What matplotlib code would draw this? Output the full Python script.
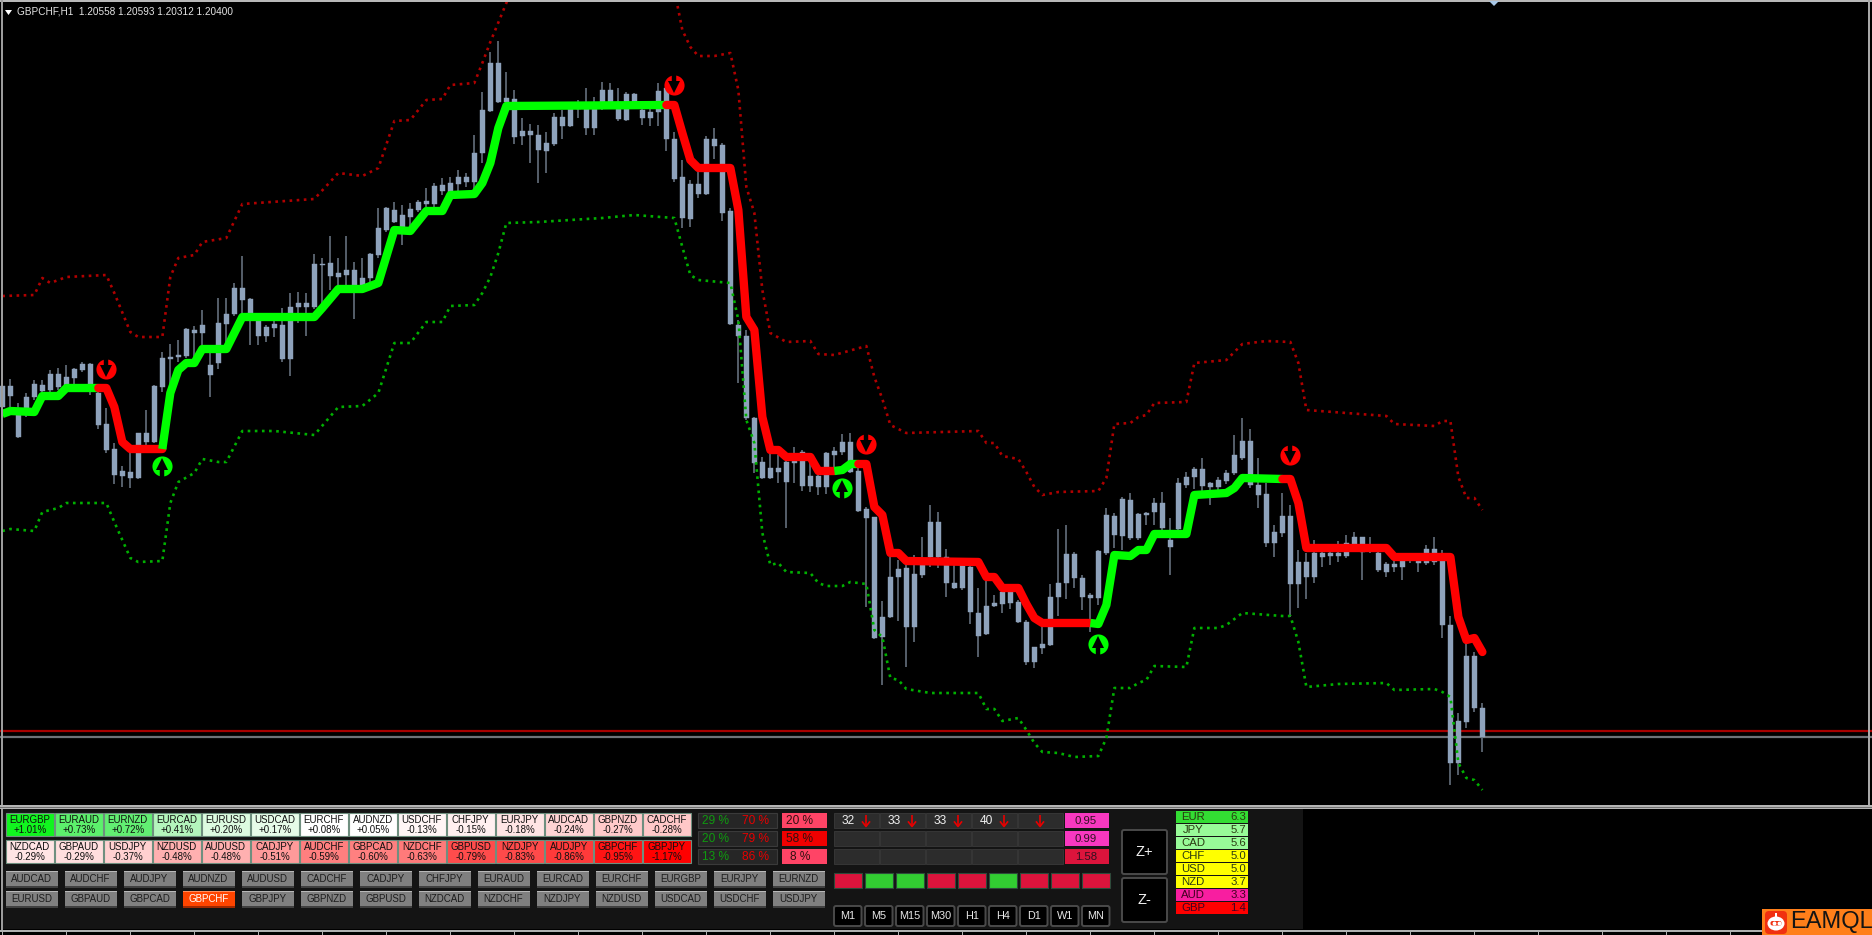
import matplotlib
matplotlib.use("Agg")
import matplotlib.pyplot as plt
from matplotlib.patches import Rectangle, FancyBboxPatch, Polygon, Ellipse

plt.rcParams["font.family"] = ["Liberation Sans", "DejaVu Sans"]

# candles, in levels above the bottom of the chart pane (the price axis is cropped away)
highs = [
    421, 427, 403, 413, 426, 426, 436, 438, 441, 438, 444, 443, 421, 398, 363, 340, 353, 373, 396, 421,
    454, 462, 466, 478, 480, 496, 461, 508, 508, 523, 550, 508, 489, 481, 485, 498, 513, 514, 513, 552,
    548, 570, 548, 570, 544, 548, 553, 598, 599, 604, 601, 603, 606, 618, 623, 628, 629, 636, 633, 671,
    714, 754, 765, 734, 716, 688, 682, 681, 674, 693, 696, 704, 706, 718, 709, 724, 723, 718, 714, 713,
    704, 698, 723, 723, 674, 646, 626, 634, 670, 678, 663, 598, 486, 476, 389, 349, 353, 351, 348, 359,
    356, 346, 339, 354, 359, 372, 373, 339, 299, 289, 205, 249, 246, 243, 251, 269, 301, 294, 257, 243,
    246, 241, 218, 226, 211, 219, 219, 206, 186, 159, 179, 222, 277, 281, 254, 231, 213, 256, 298, 293,
    309, 313, 293, 294, 308, 314, 288, 328, 334, 339, 348, 324, 329, 336, 371, 388, 377, 348, 323, 281,
    313, 301, 256, 253, 266, 259, 259, 265, 271, 274, 269, 269, 256, 244, 246, 251, 251, 250, 261, 269,
    256, 190, 93, 163, 154, 103,
]
body_tops = [
    420, 420, 391, 409, 422, 421, 432, 432, 429, 437, 442, 442, 413, 382, 357, 335, 334, 373, 373, 420,
    448, 449, 451, 477, 476, 481, 441, 483, 492, 518, 518, 507, 486, 479, 482, 481, 499, 503, 503, 542,
    542, 543, 533, 536, 536, 528, 552, 578, 598, 596, 591, 597, 604, 605, 620, 621, 623, 629, 629, 653,
    696, 743, 743, 708, 707, 675, 675, 671, 663, 689, 689, 699, 700, 699, 698, 716, 716, 704, 712, 712,
    696, 694, 715, 718, 667, 629, 622, 622, 667, 667, 661, 595, 481, 470, 388, 344, 338, 338, 344, 349,
    354, 330, 330, 353, 355, 364, 364, 335, 297, 289, 189, 229, 237, 238, 232, 243, 284, 284, 249, 223,
    241, 239, 193, 200, 203, 214, 214, 204, 184, 159, 162, 209, 223, 252, 252, 228, 211, 255, 291, 290,
    307, 306, 292, 293, 303, 303, 266, 323, 329, 337, 337, 323, 326, 333, 351, 365, 365, 321, 312, 274,
    290, 290, 244, 244, 253, 253, 253, 253, 263, 269, 269, 261, 253, 242, 242, 246, 248, 248, 257, 257,
    249, 181, 85, 150, 150, 98,
]
body_bottoms = [
    399, 410, 369, 391, 409, 415, 416, 419, 419, 428, 436, 419, 381, 356, 331, 330, 328, 328, 364, 364,
    419, 447, 449, 450, 473, 473, 431, 443, 482, 492, 506, 491, 470, 470, 478, 447, 447, 499, 499, 499,
    541, 530, 529, 531, 521, 521, 528, 551, 576, 584, 574, 589, 596, 602, 602, 615, 614, 622, 624, 624,
    653, 695, 704, 704, 669, 670, 671, 656, 655, 662, 680, 680, 697, 678, 678, 699, 702, 687, 686, 704,
    688, 688, 694, 667, 627, 588, 587, 612, 612, 660, 593, 482, 470, 388, 343, 328, 328, 334, 324, 343,
    320, 320, 319, 319, 351, 354, 334, 295, 288, 168, 169, 189, 229, 179, 179, 231, 249, 249, 223, 218,
    218, 194, 170, 172, 200, 202, 203, 184, 144, 144, 158, 161, 209, 223, 228, 209, 208, 208, 253, 271,
    270, 268, 268, 291, 294, 278, 259, 277, 321, 329, 320, 319, 319, 325, 333, 348, 321, 311, 263, 263,
    273, 222, 222, 229, 229, 249, 250, 250, 250, 262, 254, 255, 236, 234, 239, 239, 246, 243, 243, 244,
    181, 43, 43, 84, 98, 69,
]
lows = [
    396, 399, 368, 389, 406, 413, 414, 416, 418, 421, 434, 411, 377, 353, 322, 319, 318, 327, 356, 363,
    414, 419, 444, 448, 444, 459, 409, 437, 459, 490, 486, 461, 461, 464, 469, 444, 430, 483, 470, 497,
    503, 516, 520, 519, 487, 519, 524, 548, 574, 583, 561, 576, 594, 599, 598, 611, 609, 613, 619, 616,
    643, 694, 703, 696, 662, 661, 643, 623, 633, 660, 667, 679, 688, 671, 671, 696, 700, 685, 685, 699,
    681, 680, 680, 655, 624, 578, 579, 608, 611, 647, 585, 481, 423, 386, 333, 327, 327, 323, 278, 323,
    315, 314, 311, 312, 339, 351, 333, 294, 199, 167, 121, 188, 185, 139, 164, 228, 239, 238, 209, 217,
    216, 182, 149, 171, 199, 193, 197, 183, 141, 138, 152, 160, 190, 207, 218, 196, 174, 201, 251, 258,
    256, 266, 266, 281, 281, 276, 231, 276, 318, 317, 311, 301, 311, 322, 331, 346, 318, 298, 259, 249,
    269, 189, 198, 207, 223, 239, 241, 244, 248, 260, 226, 253, 234, 229, 234, 226, 243, 234, 241, 241,
    168, 21, 31, 78, 94, 54,
]

# thick trend line, colour flips at each switch bar
trend_bars = [
    0, 1, 4, 5, 7, 8, 12, 13, 14, 15, 16, 20, 21, 22, 23, 24, 25, 28, 30, 39, 40, 42, 45, 47, 49, 51, 53, 55, 56,
    59, 60, 61, 62, 63, 83, 84, 85, 86, 87, 91, 92, 93, 94, 95, 96, 97, 98, 101, 102, 104, 105, 106, 107, 108,
    109, 110, 111, 112, 113, 122, 123, 124, 125, 127, 128, 129, 130, 136, 137, 138, 139, 141, 142, 143, 144,
    148, 149, 153, 154, 155, 160, 161, 162, 163, 173, 174, 181, 182, 183, 184, 185,
]
trend_levels = [
    392, 395, 394, 410, 410, 418, 418, 418, 399, 364, 357, 357, 413, 436, 443, 443, 457, 457, 489, 489, 498, 517,
    517, 523, 576, 575, 595, 595, 611, 612, 623, 643, 678, 700, 701, 701, 673, 646, 638, 638, 596, 489, 476, 389,
    356, 356, 349, 349, 335, 335, 336, 342, 342, 342, 299, 291, 253, 253, 245, 244, 229, 229, 218, 218, 202, 188,
    183, 183, 182, 201, 251, 250, 256, 256, 272, 272, 311, 313, 318, 328, 327, 327, 303, 258, 258, 249, 249, 189,
    166, 168, 154,
]
switch_bars = [12, 20, 83, 104, 107, 136, 160]

upper_bars = [
    0, 4, 5, 6, 8, 13, 14, 16, 17, 20, 21, 22, 24, 25, 28, 30, 39, 42, 45, 47, 49, 51, 53, 55, 56, 59, 60, 61, 63,
    64, 83, 84, 85, 86, 87, 89, 91, 92, 93, 94, 95, 96, 98, 101, 102, 104, 108, 109, 110, 111, 113, 122, 123, 124,
    125, 127, 128, 129, 130, 132, 137, 138, 139, 141, 142, 143, 144, 148, 149, 153, 154, 155, 158, 161, 162, 163,
    173, 174, 179, 180, 181, 182, 183, 184, 185,
]
upper_levels = [
    510, 511, 528, 523, 529, 531, 513, 474, 469, 469, 529, 548, 551, 564, 568, 602, 607, 633, 630, 638, 685, 686,
    706, 707, 721, 723, 743, 764, 803, 830, 830, 816, 776, 759, 750, 750, 753, 716, 619, 593, 516, 473, 464, 465,
    452, 451, 460, 429, 407, 381, 373, 375, 363, 363, 350, 347, 334, 319, 311, 314, 315, 328, 382, 383, 389, 391,
    403, 404, 443, 446, 454, 462, 465, 464, 443, 396, 390, 382, 380, 385, 385, 329, 308, 308, 296,
]
lower_bars = [
    0, 1, 4, 5, 7, 8, 13, 14, 16, 17, 20, 21, 22, 24, 25, 27, 28, 30, 34, 39, 42, 45, 47, 49, 51, 53, 55, 56, 59,
    60, 61, 62, 63, 67, 75, 79, 84, 85, 86, 87, 91, 92, 93, 94, 95, 96, 97, 98, 101, 102, 103, 105, 106, 108, 109,
    110, 111, 112, 113, 116, 122, 123, 124, 125, 127, 128, 129, 130, 132, 134, 137, 138, 139, 141, 142, 143, 144,
    148, 149, 152, 153, 155, 160, 161, 162, 163, 167, 173, 174, 179, 180, 181, 182, 183, 184, 185,
]
lower_levels = [
    275, 277, 275, 294, 298, 303, 303, 284, 248, 244, 245, 303, 324, 333, 347, 344, 344, 375, 375, 371, 399, 400,
    413, 463, 463, 484, 484, 500, 501, 513, 529, 553, 583, 584, 588, 591, 588, 559, 531, 526, 523, 486, 386, 363,
    273, 241, 243, 234, 233, 223, 220, 220, 224, 222, 176, 169, 128, 126, 117, 113, 113, 97, 97, 85, 88, 76, 63,
    54, 53, 49, 50, 68, 118, 118, 123, 126, 140, 139, 178, 178, 181, 193, 190, 190, 164, 119, 122, 123, 116, 117,
    114, 109, 43, 28, 26, 16,
]

sell_bars = [13, 84, 108, 161]
sell_levels = [437, 721, 362, 351]
buy_bars = [20, 105, 137]
buy_levels = [340, 318, 162]
ask_level = 75
bid_level = 69

# bottom panel contents
pairs_top = ["EURGBP", "EURAUD", "EURNZD", "EURCAD", "EURUSD", "USDCAD", "EURCHF", "AUDNZD", "USDCHF", "CHFJPY",
             "EURJPY", "AUDCAD", "GBPNZD", "CADCHF"]
changes_top = ["+1.01%", "+0.73%", "+0.72%", "+0.41%", "+0.20%", "+0.17%", "+0.08%", "+0.05%", "-0.13%", "-0.15%",
               "-0.18%", "-0.24%", "-0.27%", "-0.28%"]
colors_top = ["#11f51f", "#5cf06c", "#62ee72", "#b4f5bc", "#dcfbe0", "#e6fbe8", "#ffffff", "#ffffff", "#fff5f5",
              "#fff0f0", "#ffe4e4", "#ffd4d4", "#ffcaca", "#ffc8c8"]
pairs_bottom = ["NZDCAD", "GBPAUD", "USDJPY", "NZDUSD", "AUDUSD", "CADJPY", "AUDCHF", "GBPCAD", "NZDCHF", "GBPUSD",
                "NZDJPY", "AUDJPY", "GBPCHF", "GBPJPY"]
changes_bottom = ["-0.29%", "-0.29%", "-0.37%", "-0.48%", "-0.48%", "-0.51%", "-0.59%", "-0.60%", "-0.63%", "-0.79%",
                  "-0.83%", "-0.86%", "-0.95%", "-1.17%"]
colors_bottom = ["#ffe4e4", "#ffdede", "#ffd0d0", "#ffb0b0", "#ffb0b0", "#ff9a9a", "#ff7f7f", "#ff8080", "#ff7a7a",
                 "#ff4c4c", "#ff4a4a", "#ff3a3a", "#ff1414", "#ff0000"]
buttons_top = ["AUDCAD", "AUDCHF", "AUDJPY", "AUDNZD", "AUDUSD", "CADCHF", "CADJPY", "CHFJPY", "EURAUD", "EURCAD",
               "EURCHF", "EURGBP", "EURJPY", "EURNZD"]
buttons_bottom = ["EURUSD", "GBPAUD", "GBPCAD", "GBPCHF", "GBPJPY", "GBPNZD", "GBPUSD", "NZDCAD", "NZDCHF", "NZDJPY",
                  "NZDUSD", "USDCAD", "USDCHF", "USDJPY"]
buy_pct = ["29 %", "20 %", "13 %"]
sell_pct = ["70 %", "79 %", "86 %"]
net_pct = ["20 %", "58 %", "8 %"]
net_colors = ["#ff4466", "#f00000", "#ff4466"]
tf_counts = ["32", "33", "33", "40", ""]
ratio_vals = ["0.95", "0.99", "1.58"]
ratio_colors = ["#f838c0", "#f838c0", "#dc143c"]
square_colors = ["#dc143c", "#32cd32", "#32cd32", "#dc143c", "#dc143c", "#32cd32", "#dc143c", "#dc143c", "#dc143c"]
timeframes = ["M1", "M5", "M15", "M30", "H1", "H4", "D1", "W1", "MN"]
currencies = ["EUR", "JPY", "CAD", "CHF", "USD", "NZD", "AUD", "GBP"]
strengths = ["6.3", "5.7", "5.6", "5.0", "5.0", "3.7", "3.3", "1.4"]
strength_colors = ["#33dd33", "#98fb98", "#98fb98", "#ffff00", "#ffff00", "#ffff00", "#f81ea0", "#ff0000"]

fig = plt.figure(figsize=(18.72, 9.35), dpi=100, facecolor="black")

# chart pane: one bar is 8 px wide, one level is 1 px high
ax = fig.add_axes([0, 129 / 935, 1, 806 / 935])
ax.set_facecolor("black")
ax.set_xlim(-0.29, 233.7)
ax.set_ylim(0, 806)
ax.axis("off")

bars = list(range(len(highs)))
ax.axhline(ask_level, color="#a80000", lw=1.6, zorder=1)
ax.axhline(bid_level, color="#6f7378", lw=1.6, zorder=1)
ax.plot(upper_bars, upper_levels, color="#b00000", lw=1.9, ls=(0, (1, 1.7)), zorder=2)
ax.vlines(bars, lows, highs, color="#5d6773", lw=1.3, zorder=3)
ax.bar(bars, [t - b for t, b in zip(body_tops, body_bottoms)], bottom=body_bottoms, width=0.6,
       color="#8ea2bb", edgecolor="#8ea2bb", lw=0.3, zorder=4)
ax.plot(lower_bars, lower_levels, color="#00b000", lw=1.9, ls=(0, (1, 1.7)), zorder=5)

# cut the trend polyline at each switch bar and alternate colours
stops = [0] + switch_bars + [trend_bars[-1]]
for i in range(len(stops) - 1):
    seg = [(b, v) for b, v in zip(trend_bars, trend_levels) if stops[i] <= b <= stops[i + 1]]
    col = "#00ff00" if i % 2 == 0 else "#ff0000"
    cap = "butt" if i % 2 == 0 else "round"
    ax.plot([s[0] for s in seg], [s[1] for s in seg], color=col, lw=6, solid_joinstyle="round",
            solid_capstyle=cap, zorder=6 + i * 0.01)


def draw_signal(bar, level, col, sign):
    # coloured disc with a black arrow cut out; sign=-1 points down, sign=1 points up
    ax.plot([bar], [level], "o", ms=14.5, mfc=col, mec=col, mew=0, zorder=8)
    ax.plot([bar, bar], [level - sign * 11, level + sign * 1], color="black", lw=3.2, zorder=8.2,
            solid_capstyle="butt")
    ax.plot([bar], [level + sign * 2], "^" if sign > 0 else "v", ms=8.5, mfc="black", mec="black", mew=0, zorder=8.3)


for b, v in zip(sell_bars, sell_levels):
    draw_signal(b, v, "#ff0000", -1)
for b, v in zip(buy_bars, buy_levels):
    draw_signal(b, v, "#00ff00", 1)

# everything else is laid out in screen pixels
ui = fig.add_axes([0, 0, 1, 1], zorder=10)
ui.set_xlim(0, 1872)
ui.set_ylim(935, 0)
ui.axis("off")
ui.patch.set_alpha(0)


def box(x0, y0, x1, y1, fc, ec="none", lw=0.0):
    ui.add_patch(Rectangle((x0, y0), x1 - x0, y1 - y0, facecolor=fc, edgecolor=ec, linewidth=lw))


def label(x, y, s, col="#101010", size=7.0, ha="center", **kw):
    ui.text(x, y, s, color=col, fontsize=size, ha=ha, va="center", **kw)


# window frame and header
box(0, 0, 1872, 1.5, "#b8b8b8")
box(1, 0, 2.5, 931, "#9c9c9c")
box(1868, 0, 1869.5, 808, "#a8a8a8")
box(0, 805, 1872, 809, "#b4b4b4")
box(0, 806.5, 1872, 807.5, "#707070")
box(3, 809, 1303, 929, "#141414")
box(0, 930, 1872, 932, "#b0b0b0")
for tx in range(2, 1872, 64):
    box(tx, 932, tx + 1.2, 935, "#b0b0b0")
ui.add_patch(Polygon([(5, 10), (12, 10), (8.5, 15)], facecolor="white"))
label(17, 12, "GBPCHF,H1  1.20558 1.20593 1.20312 1.20400", col="#e4e4e4", size=7.2, ha="left")
ui.add_patch(Polygon([(1489, 1), (1499, 1), (1494, 6)], facecolor="#a9c8e6"))

# heat table
for names, vals, cols, y0 in [(pairs_top, changes_top, colors_top, 813),
                              (pairs_bottom, changes_bottom, colors_bottom, 840)]:
    for i, (n, v, c) in enumerate(zip(names, vals, cols)):
        x0 = 6 + 49 * i
        box(x0, y0, x0 + 47.5, y0 + 23, c, ec="#6f8f7f", lw=0.8)
        label(x0 + 23.7, y0 + 7, n)
        label(x0 + 23.7, y0 + 17, v)

# symbol buttons
for names, y0 in [(buttons_top, 871), (buttons_bottom, 891)]:
    for i, n in enumerate(names):
        x0 = 5.5 + 59 * i
        active = n == "GBPCHF"
        fc = "#ff4500" if active else "#808080"
        box(x0, y0, x0 + 52, y0 + 16.5, fc)
        box(x0, y0, x0 + 52, y0 + 1.3, "#ff9060" if active else "#b8b8b8")
        box(x0, y0 + 15.2, x0 + 52, y0 + 16.5, "#a02800" if active else "#404040")
        label(x0 + 26, y0 + 8.5, n, col="white" if active else "#1c1c1c")

# buy / sell percentages, multi-timeframe grid, ratios
row_tops = [813, 831, 849]
for i, y0 in enumerate(row_tops):
    box(698, y0, 777, y0 + 15, "#262626", ec="#3a3a3a", lw=0.8)
    label(716, y0 + 8, buy_pct[i], col="#0f9a0f", size=8.6)
    label(756, y0 + 8, sell_pct[i], col="#e60000", size=8.6)
    box(782, y0, 826.5, y0 + 15, net_colors[i])
    label(800, y0 + 8, net_pct[i], col="#301010", size=8.6)
    for j in range(5):
        x0 = 834 + 46 * j
        box(x0, y0, x0 + 44.5, y0 + 15, "#2c2c2c", ec="#3a3a3a", lw=0.6)
    box(1065, y0, 1108.5, y0 + 15, ratio_colors[i])
    label(1086, y0 + 8, ratio_vals[i], col="#301020", size=8.2)
for j, n in enumerate(tf_counts):
    x0 = 834 + 46 * j
    arrow_x = x0 + 32 if n else x0 + 22
    label(x0 + 14, 821, n, col="#f0f0f0", size=8.6)
    ui.plot([arrow_x, arrow_x], [815, 826], color="#e80000", lw=1.2, solid_capstyle="butt")
    ui.plot([arrow_x - 3.5, arrow_x, arrow_x + 3.5], [822, 826.5, 822], color="#e80000", lw=1.2)

for i, c in enumerate(square_colors):
    x0 = 834 + 31 * i
    box(x0, 873, x0 + 28, 888, c, ec="#2e4a3a", lw=0.8)
for i, n in enumerate(timeframes):
    x0 = 833 + 31 * i
    ui.add_patch(FancyBboxPatch((x0 + 1, 906), 27.5, 20, boxstyle="round,pad=0,rounding_size=2",
                                facecolor="black", edgecolor="#4a4a4a", linewidth=1.4))
    label(x0 + 15, 916, n, col="#e8e8e8", size=7.8)
for y0, n in [(830, "Z+"), (878, "Z-")]:
    ui.add_patch(FancyBboxPatch((1122, y0), 45, 44, boxstyle="round,pad=0,rounding_size=2",
                                facecolor="black", edgecolor="#4a4a4a", linewidth=1.4))
    label(1144, y0 + 22, n, col="#f0f0f0", size=10.5)

# currency strength
for i, (n, v, c) in enumerate(zip(currencies, strengths, strength_colors)):
    y0 = 811 + 13 * i
    box(1175.5, y0, 1248, y0 + 12.3, c)
    label(1193, y0 + 6.4, n, col="#2a3a10" if i < 6 else "#400020", size=8.2)
    label(1238, y0 + 6.4, v, col="#2a3a10" if i < 6 else "#400020", size=8.2)

# logo
box(1762, 909, 1872, 935, "#ff7f1a")
ui.add_patch(FancyBboxPatch((1765, 911), 22, 23, boxstyle="round,pad=0,rounding_size=4",
                            facecolor="#f03010", edgecolor="none"))
ui.add_patch(Ellipse((1776, 923.5), 17, 14, facecolor="white"))
box(1775.3, 913, 1776.7, 917, "white")
ui.add_patch(FancyBboxPatch((1770.5, 921), 11, 4.5, boxstyle="round,pad=0,rounding_size=2",
                            facecolor="#f03010", edgecolor="none"))
ui.plot([1773.5, 1778.5], [923.3, 923.3], "o", ms=1.8, color="white")
label(1832, 922, "EAMQL", col="#141414", size=17)

fig.savefig("out.png", dpi=100, facecolor="black")
